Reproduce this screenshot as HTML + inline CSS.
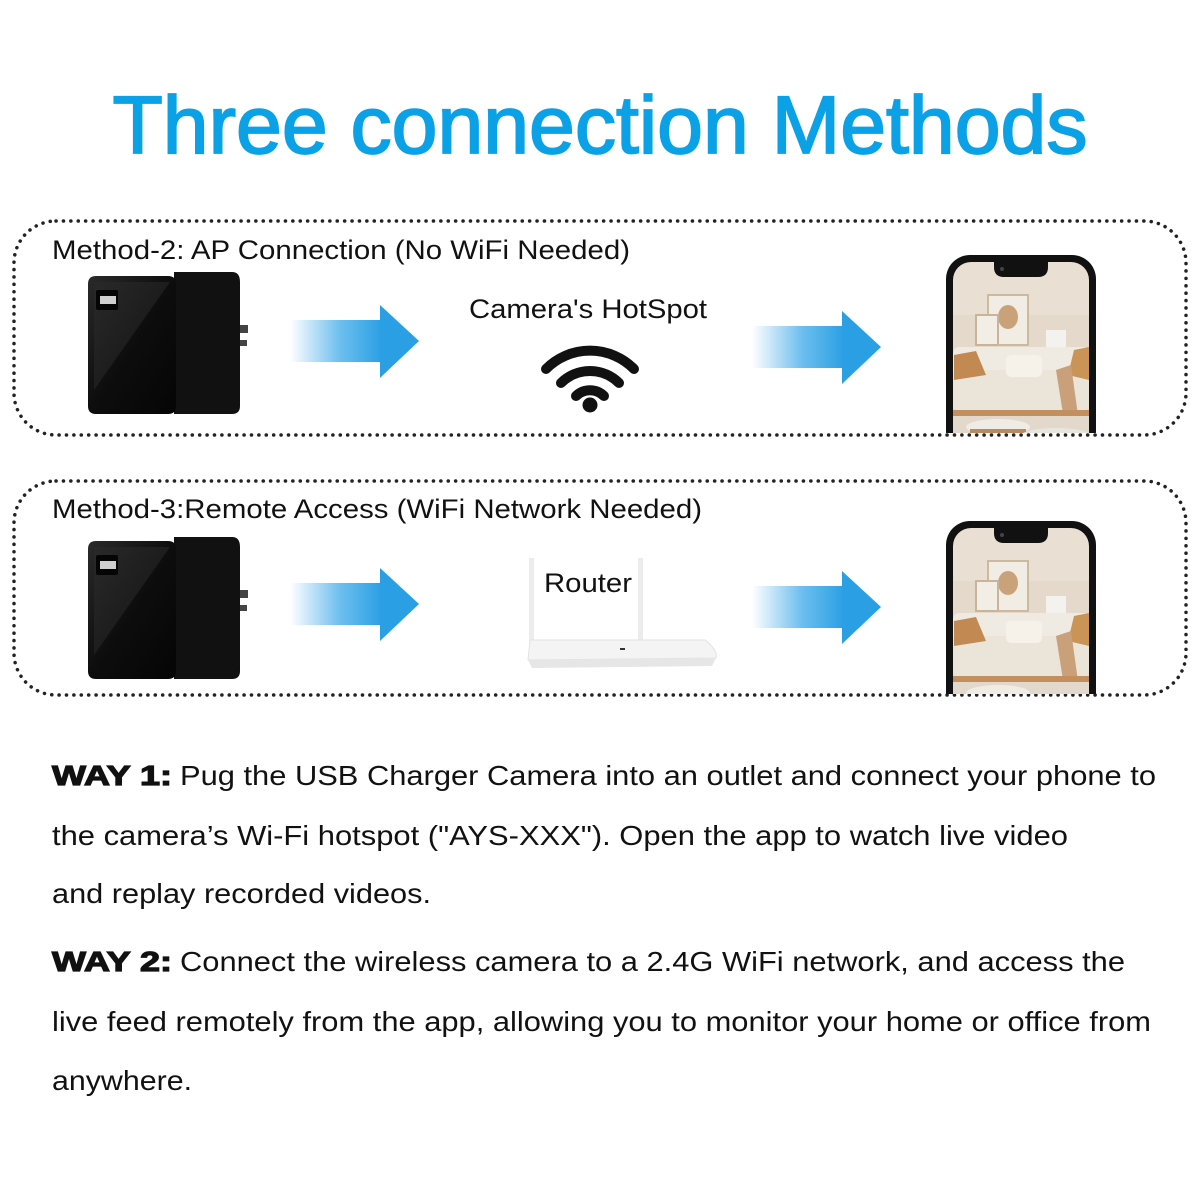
<!DOCTYPE html>
<html><head><meta charset="utf-8"><style>
html,body{margin:0;padding:0;background:#fff;}
svg{display:block;font-family:"Liberation Sans",Arial,sans-serif;}
</style></head><body>
<svg width="1200" height="1200" viewBox="0 0 1200 1200" xmlns="http://www.w3.org/2000/svg">
<defs>
<linearGradient id="ag" x1="0" x2="1" y1="0" y2="0">
<stop offset="0" stop-color="#3aa8e8" stop-opacity="0"/>
<stop offset="0.55" stop-color="#3aa8e8" stop-opacity="0.75"/>
<stop offset="1" stop-color="#2a9fe4"/>
</linearGradient>
<linearGradient id="cg" x1="0" x2="1" y1="0" y2="1">
<stop offset="0" stop-color="#2a2a2a"/><stop offset="0.5" stop-color="#0d0d0d"/><stop offset="1" stop-color="#050505"/>
</linearGradient>
<g id="charger">
<rect x="150" y="55" width="10" height="8" fill="#444"/>
<rect x="150" y="70" width="9" height="6" fill="#444"/>
<path d="M86 2 L144 2 Q152 2 152 12 L152 136 Q152 144 144 144 L86 144 Z" fill="#111"/>
<path d="M0 14 Q0 6 8 6 L80 6 Q88 6 88 14 L88 136 Q88 144 80 144 L8 144 Q0 144 0 136 Z" fill="url(#cg)"/>
<path d="M6 12 L82 12 L6 120 Z" fill="#2b2b2b" opacity="0.5"/>
<rect x="8" y="20" width="22" height="20" rx="2" fill="#050505"/>
<rect x="12" y="26" width="16" height="8" fill="#cfcfcf"/>
</g>
<g id="arrow">
<rect x="0" y="-21" width="92" height="42" fill="url(#ag)"/>
<path d="M90 -36 L129 0 L90 37 Z" fill="#2a9fe4"/>
</g>
<g id="phone">
<rect x="0" y="0" width="150" height="200" rx="24" fill="#111"/>
<rect x="7" y="7" width="136" height="200" rx="18" fill="#e9dfd2"/>
<rect x="7" y="60" width="136" height="60" fill="#e4d9cb"/>
<rect x="42" y="40" width="40" height="50" fill="#f1ece4" stroke="#cbb9a0" stroke-width="2"/>
<ellipse cx="62" cy="62" rx="10" ry="12" fill="#c9a27a"/>
<rect x="30" y="60" width="22" height="30" fill="#f2ede5" stroke="#c7b49b" stroke-width="2"/>
<rect x="100" y="75" width="20" height="20" fill="#f4f2ee"/>
<rect x="7" y="92" width="136" height="30" rx="6" fill="#f0ebe2"/>
<rect x="7" y="115" width="136" height="40" rx="6" fill="#ebe4d8"/>
<rect x="60" y="100" width="36" height="22" rx="5" fill="#f6f2ea"/>
<path d="M8 100 L30 96 L40 120 L8 125 Z" fill="#c28a52"/>
<path d="M128 95 L143 92 L143 125 L122 120 Z" fill="#c99456"/>
<path d="M110 115 L125 110 L132 160 L118 165 Z" fill="#c9a07a"/>
<rect x="7" y="155" width="136" height="6" fill="#c38f5e"/>
<rect x="7" y="161" width="136" height="40" fill="#e2d9cc"/>
<ellipse cx="52" cy="172" rx="32" ry="8" fill="#efece6"/>
<rect x="24" y="174" width="56" height="26" fill="#b98a5f"/>
<ellipse cx="110" cy="183" rx="38" ry="10" fill="#e9e6e0"/>
<rect x="78" y="188" width="64" height="14" fill="#b08460"/>
<path d="M48 7 L102 7 L102 12 Q102 22 92 22 L58 22 Q48 22 48 12 Z" fill="#111"/>
<circle cx="56" cy="14" r="2" fill="#444"/>
</g>
<clipPath id="c1"><rect x="900" y="200" width="250" height="233"/></clipPath>
<clipPath id="c2"><rect x="900" y="460" width="250" height="234"/></clipPath>
</defs>

<text x="600" y="153" text-anchor="middle" font-size="82" fill="#0aa1e7" stroke="#0aa1e7" stroke-width="1.8" textLength="975" lengthAdjust="spacingAndGlyphs">Three connection Methods</text>

<!-- Box 1 -->
<rect x="14" y="221" width="1172" height="214" rx="42" fill="none" stroke="#222" stroke-width="3.5" stroke-dasharray="0.1 7.3" stroke-linecap="round"/>
<text x="52" y="259" font-size="27" fill="#111" textLength="578" lengthAdjust="spacingAndGlyphs">Method-2: AP Connection (No WiFi Needed)</text>
<use href="#charger" x="88" y="270"/>
<use href="#arrow" x="290" y="341"/>
<use href="#arrow" x="752" y="347"/>
<text x="588" y="318" text-anchor="middle" font-size="27" fill="#111" textLength="238" lengthAdjust="spacingAndGlyphs">Camera's HotSpot</text>
<g fill="none" stroke="#111" stroke-width="10" stroke-linecap="round">
<path d="M546 369 A62 62 0 0 1 634 369"/>
<path d="M561 383 A41 41 0 0 1 619 383"/>
<path d="M576 396 A20 20 0 0 1 604 396"/>
</g>
<circle cx="590" cy="405" r="7.5" fill="#111"/>
<g clip-path="url(#c1)"><use href="#phone" x="946" y="255"/></g>

<!-- Box 2 -->
<rect x="14" y="481" width="1172" height="214" rx="42" fill="none" stroke="#222" stroke-width="3.5" stroke-dasharray="0.1 7.3" stroke-linecap="round"/>
<text x="52" y="518" font-size="27" fill="#111" textLength="650" lengthAdjust="spacingAndGlyphs">Method-3:Remote Access (WiFi Network Needed)</text>
<use href="#charger" x="88" y="535"/>
<use href="#arrow" x="290" y="604"/>
<use href="#arrow" x="752" y="607"/>
<!-- router -->
<rect x="529" y="558" width="5" height="88" fill="#ececec"/>
<rect x="638" y="558" width="5" height="88" fill="#ececec"/>
<path d="M530 640 L705 640 Q718 650 716 658 L528 660 Z" fill="#f4f4f4" stroke="#e2e2e2"/>
<path d="M528 660 L716 658 L712 666 L532 668 Z" fill="#e6e6e6"/>
<rect x="620" y="648" width="5" height="2" fill="#333"/>
<text x="588" y="592" text-anchor="middle" font-size="27" fill="#111" textLength="88" lengthAdjust="spacingAndGlyphs">Router</text>
<g clip-path="url(#c2)"><use href="#phone" x="946" y="521"/></g>

<!-- text -->
<g font-size="28" fill="#111">
<text x="52" y="785" font-weight="bold" stroke="#111" stroke-width="1.2" textLength="120" lengthAdjust="spacingAndGlyphs">WAY 1:</text>
<text x="180" y="785" textLength="976" lengthAdjust="spacingAndGlyphs">Pug the USB Charger Camera into an outlet and connect your phone to</text>
<text x="52" y="845" textLength="1016" lengthAdjust="spacingAndGlyphs">the camera’s Wi-Fi hotspot ("AYS-XXX"). Open the app to watch live video</text>
<text x="52" y="903" textLength="379" lengthAdjust="spacingAndGlyphs">and replay recorded videos.</text>
<text x="52" y="971" font-weight="bold" stroke="#111" stroke-width="1.2" textLength="120" lengthAdjust="spacingAndGlyphs">WAY 2:</text>
<text x="180" y="971" textLength="945" lengthAdjust="spacingAndGlyphs">Connect the wireless camera to a 2.4G WiFi network, and access the</text>
<text x="52" y="1031" textLength="1099" lengthAdjust="spacingAndGlyphs">live feed remotely from the app, allowing you to monitor your home or office from</text>
<text x="52" y="1090" textLength="140" lengthAdjust="spacingAndGlyphs">anywhere.</text>
</g>
</svg>
</body></html>
